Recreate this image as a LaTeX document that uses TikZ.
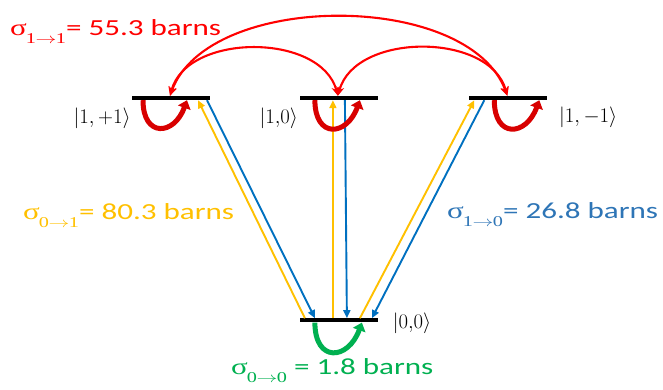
\documentclass[tikz,border=0pt]{standalone}
\usepackage{fontspec}
\usepackage{graphicx}
\setmainfont{Carlito}[FakeStretch=1.35]
\newfontfamily\sigfont{Liberation Serif}[FakeStretch=1.35]
\usepackage{tikz}
\usetikzlibrary{arrows.meta, positioning, calc}
\definecolor{xsred}{HTML}{FF0000}
\definecolor{xsloop}{HTML}{D80000}
\definecolor{xsyellow}{HTML}{FFC000}
\definecolor{xsblue}{HTML}{2E75B6}
\definecolor{xsline}{HTML}{0070C0}
\definecolor{xsgreen}{HTML}{00B050}
\newcommand{\xsec}[2]{{\sigfont σ\kern-1pt\raisebox{-8pt}{\fontsize{15}{15}\selectfont #1\kern-0.5pt\scalebox{1.45}[1]{$\rightarrow$}\kern-0.5pt#2}}}

\begin{document}
\begin{tikzpicture}[x=1pt, y=1pt,
        level/.style={fill=black, minimum width=78pt, minimum height=4pt, inner sep=0pt},
        ket/.style={inner sep=0pt, font=\fontsize{22}{22}\selectfont},
        xslabel/.style={inner sep=0pt, anchor=base west, font=\fontsize{23}{26}\selectfont},
        excite/.style={-{Triangle[length=8pt,width=7pt]}, line width=1.9pt, xsyellow},
        decay/.style={-{Triangle[length=8pt,width=7pt]}, line width=1.9pt, xsline},
        mix/.style={{Stealth[length=9pt,width=8pt]}-{Stealth[length=9pt,width=8pt]}, line width=2.1pt, xsred},
        selfloop/.style={-{Triangle[length=8pt,width=13pt]}, line width=5pt, xsloop}
    ]
        \useasboundingbox (0,0) rectangle (663,-389);

        \node (l1) [level] at (171,-98) {};
        \node (l0) [level, right=90pt of l1] {};
        \node (lm) [level, right=90pt of l0] {};
        \node (g) [level, below=218pt of l0] {};

        \node (k1) [ket, left=1pt of l1.west, yshift=-20pt] {$|1,+1\rangle$};
        \node (k0) [ket, left=2pt of l0.west, yshift=-20pt] {$|1{,}0\rangle$};
        \node (km) [ket, right=12pt of lm.east, yshift=-19pt] {$|1,-1\rangle$};
        \node (kg) [ket, right=14pt of g.east, yshift=-3pt] {$|0{,}0\rangle$};

        \node (s11) [xslabel, xsred] at (10,-35) {\xsec{1}{1}= 55.3 barns};
        \node (s01) [xslabel, xsyellow] at (23,-219) {\xsec{0}{1}= 80.3 barns};
        \node (s10) [xslabel, xsblue] at (447,-218) {\xsec{1}{0}= 26.8 barns};
        \node (s00) [xslabel, xsgreen] at (231,-374) {\xsec{0}{0} = 1.8 barns};

        \draw [excite] ([xshift=-34.5pt]g.north) -- ([xshift=27pt]l1.south);
        \draw [decay] ([xshift=36pt]l1.south) -- ([xshift=-24.5pt]g.north);
        \draw [excite] ([xshift=-6.5pt]g.north) -- ([xshift=-6.5pt]l0.south);
        \draw [decay] ([xshift=5.5pt]l0.south) -- ([xshift=7.5pt]g.north);
        \draw [excite] ([xshift=20.5pt]g.north) -- ([xshift=-33.5pt]lm.south);
        \draw [decay] ([xshift=-23.5pt]lm.south) -- ([xshift=32.5pt]g.north);

        \draw [mix] ([xshift=-1pt]l1.north) to[out=70, in=110, looseness=0.85] ([xshift=-0.5pt]lm.north);
        \draw [mix] ([xshift=-1pt]l1.north) to[out=75, in=105] ([xshift=-1.5pt]l0.north);
        \draw [mix] ([xshift=-1.5pt]l0.north) to[out=75, in=105] ([xshift=-0.5pt]lm.north);

        \draw [selfloop] ([xshift=-28pt]l1.south) to[out=-90, in=-110, looseness=2.2] ([xshift=16pt]l1.south);
        \draw [selfloop] ([xshift=-24.5pt]l0.south) to[out=-90, in=-110, looseness=2.2] ([xshift=20.5pt]l0.south);
        \draw [selfloop] ([xshift=-13.5pt]lm.south) to[out=-90, in=-110, looseness=2.2] ([xshift=31.5pt]lm.south);
        \draw [selfloop, xsgreen] ([xshift=-24.5pt]g.south) to[out=-90, in=-110, looseness=2.2] ([xshift=22.5pt]g.south);
    \end{tikzpicture}
\end{document}
